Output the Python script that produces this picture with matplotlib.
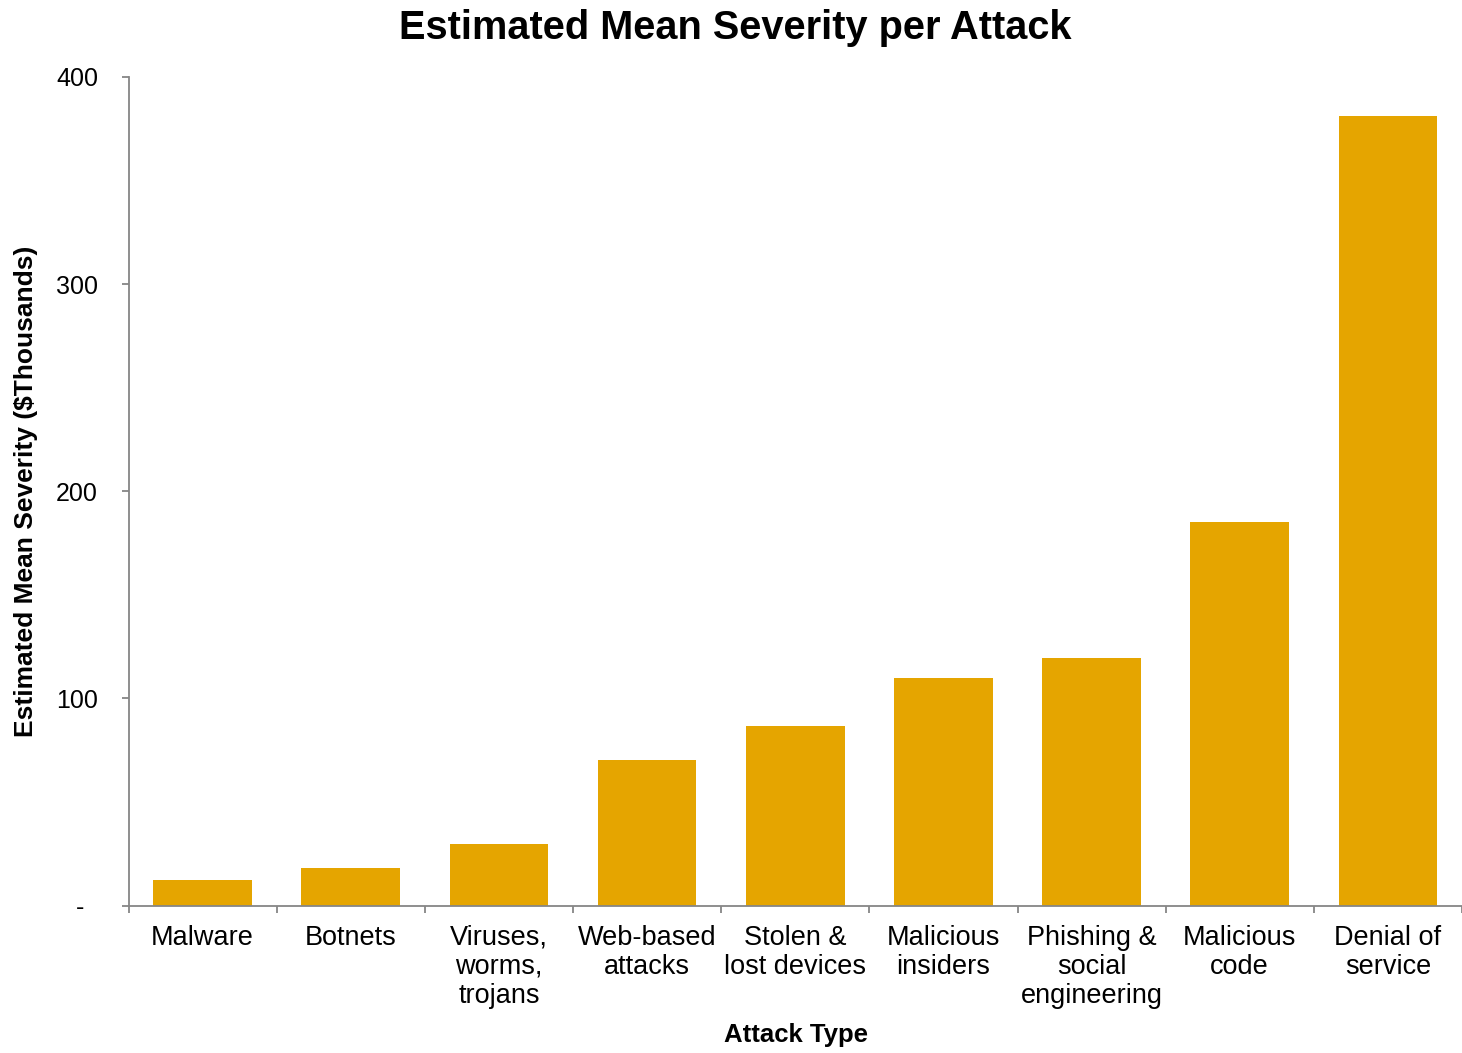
import numpy as np
import matplotlib
matplotlib.use("Agg")
import matplotlib.pyplot as plt
from matplotlib.ticker import FixedLocator, FixedFormatter

plt.rcParams['font.family'] = ['Liberation Sans', 'DejaVu Sans']

# data
attacks = ["Malware", "Botnets", "Viruses,\nworms,\ntrojans", "Web-based\nattacks",
           "Stolen &\nlost devices", "Malicious\ninsiders", "Phishing &\nsocial\nengineering",
           "Malicious\ncode", "Denial of\nservice"]
severity = [12.5, 18.3, 29.9, 70.4, 86.9, 110.0, 119.7, 185.3, 381.2]
yticks = [0, 100, 200, 300, 400]
ytick_labels = ["-  ", "100", "200", "300", "400"]

W, H = 1462, 1053
fig = plt.figure(figsize=(W / 100, H / 100), dpi=100)
ax = fig.add_axes([128.5 / W, 1 - 905.5 / H, (W - 128.5) / W, (905.5 - 77) / H])

x = np.arange(len(attacks))
ax.bar(x, severity, width=0.667, color="#E5A500", zorder=2)

ax.set_xlim(-0.5, len(attacks) - 0.5)
ax.set_ylim(0, 400)

axis_col = "#868686"
for s in ["top", "right"]:
    ax.spines[s].set_visible(False)
for s in ["left", "bottom"]:
    ax.spines[s].set_color(axis_col)
    ax.spines[s].set_linewidth(1.3)

# category labels centred, tick marks on the boundaries
ax.set_xticks(x)
ax.set_xticklabels(attacks, fontsize=19.5, linespacing=1.15)
ax.tick_params(axis="x", which="major", length=0, pad=14)
ax.xaxis.set_minor_locator(FixedLocator(np.arange(-0.5, len(attacks), 1.0)))
ax.tick_params(axis="x", which="minor", length=5, width=1.3, color=axis_col, direction="out")

ax.yaxis.set_major_locator(FixedLocator(yticks))
ax.yaxis.set_major_formatter(FixedFormatter(ytick_labels))
ax.tick_params(axis="y", length=5, width=1.3, color=axis_col, direction="out", pad=17, labelsize=18)

fig.text(735 / W, 1 - 28 / H, "Estimated Mean Severity per Attack", ha="center", va="center",
         fontsize=28.6, fontweight="bold")
fig.text(796 / W, 1 - 1035 / H, "Attack Type", ha="center", va="center",
         fontsize=18.5, fontweight="bold")
fig.text(26 / W, 1 - 491 / H, "Estimated Mean Severity ($Thousands)", ha="center", va="center",
         rotation=90, fontsize=19, fontweight="bold")

fig.savefig("out.png", dpi=100)
